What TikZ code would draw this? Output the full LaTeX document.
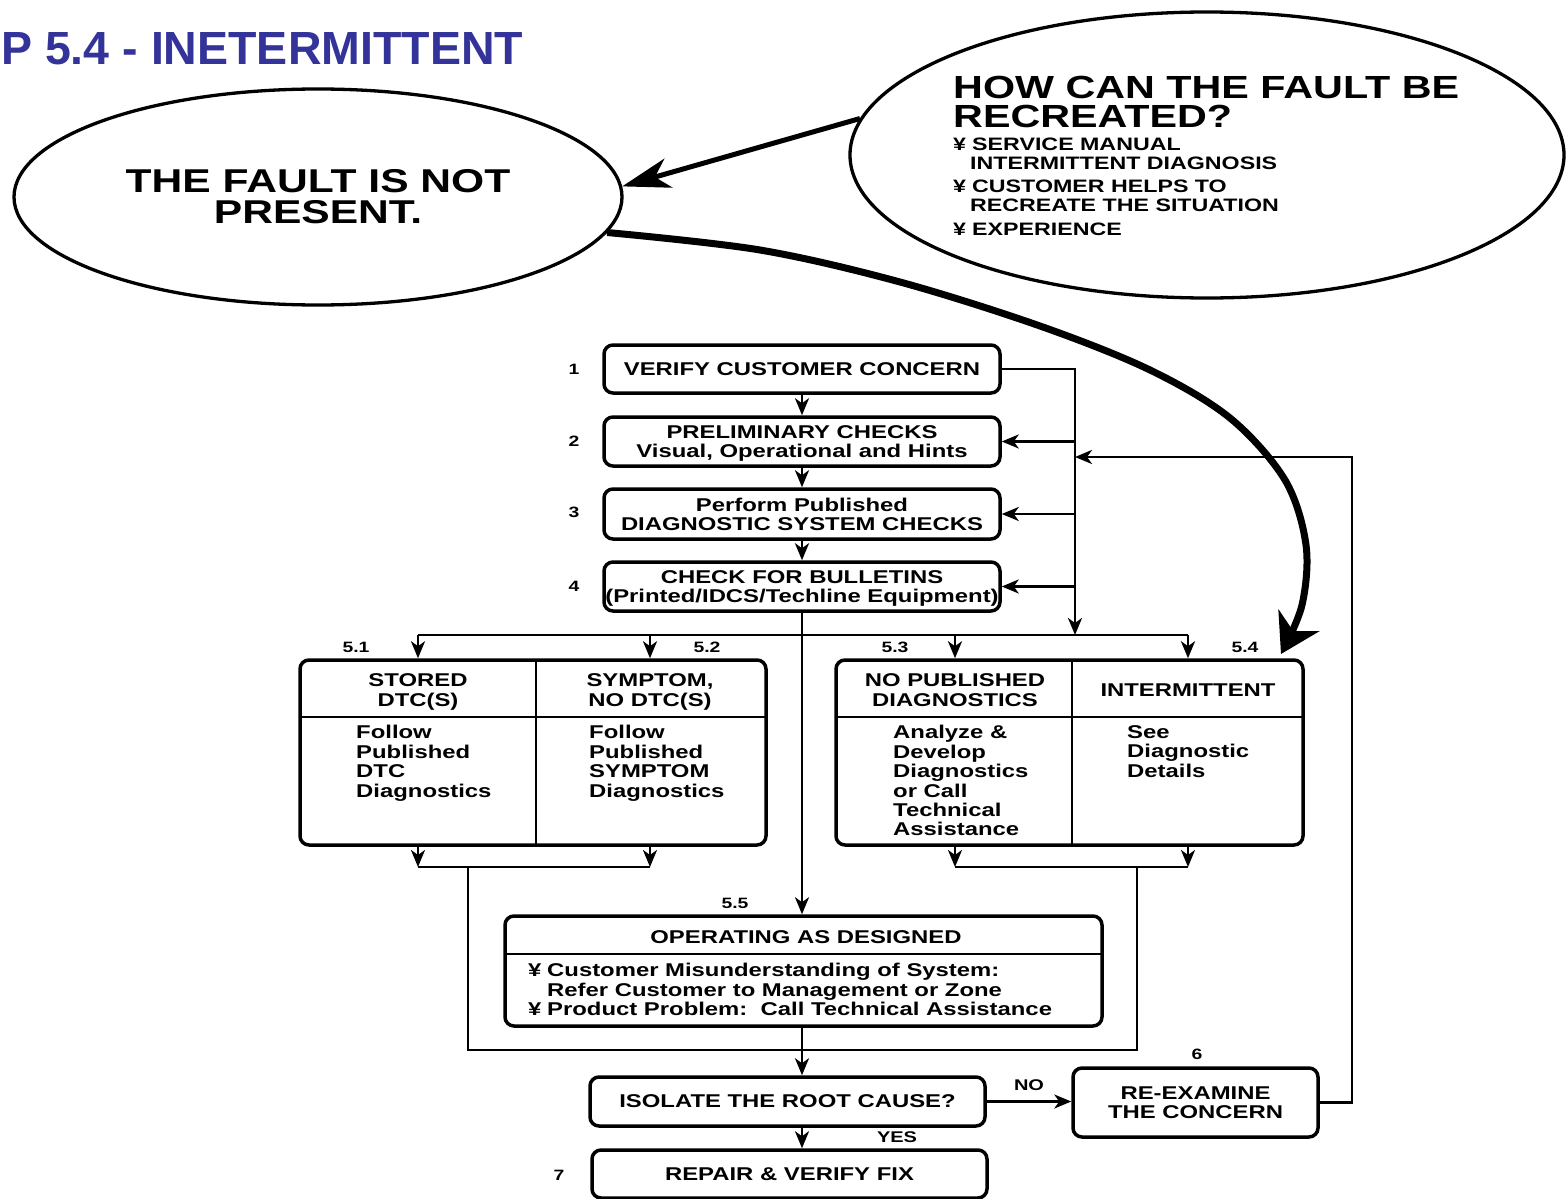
\documentclass[tikz,border=0pt]{standalone}
\usepackage{fontspec}
\setmainfont{Liberation Sans}
\newfontfamily\dfont[FakeStretch=1.29]{Liberation Sans}
\newfontfamily\tfont{Liberation Sans}
\usetikzlibrary{arrows.meta,shapes.geometric}
\definecolor{titleblue}{RGB}{51,51,153}
\newcommand\ftx{\dfont\bfseries\fontsize{18.5}{19.4}\selectfont}
\newcommand\fbig{\dfont\bfseries\fontsize{32}{31}\selectfont}
\newcommand\fbul{\dfont\bfseries\fontsize{18}{19}\selectfont}
\newcommand\flbl{\dfont\bfseries\fontsize{15}{17}\selectfont}
\newcommand\yen{\makebox[19pt][l]{¥}}
\tikzset{
  box/.style={draw, line width=3.5pt, rounded corners=9pt, inner sep=0pt, align=center, font=\ftx, text depth=0pt},
  ell/.style={draw, ellipse, line width=3.3pt, inner sep=0pt},
  conn/.style={line width=2.6pt},
  arr/.style={conn, -{Stealth[length=17pt,width=14pt,inset=5pt]}},
  lbl/.style={inner sep=0pt, font=\flbl},
  txt/.style={inner sep=0pt, align=left, font=\ftx},
  btxt/.style={inner sep=0pt, anchor=base west, font=\fbul},
  hdr/.style={inner sep=0pt, align=center, font=\ftx, text depth=0pt},
  divl/.style={line width=2pt},
}
\begin{document}
\begin{tikzpicture}[x=1pt,y=-1pt]
\useasboundingbox (0,0) rectangle (1567,1199);
\fill[white] (0,0) rectangle (1567,1199);

% title
\node[anchor=base west, inner sep=0pt, text=titleblue, font=\tfont\bfseries\fontsize{46.5}{52}\selectfont] (title) at (1,65) {P 5.4 - INETERMITTENT};

% ellipses
\node[ell, minimum width=608pt, minimum height=216pt, align=center, font=\dfont\bfseries\fontsize{33}{31}\selectfont] (fault) at (318,197) {THE FAULT IS NOT\\PRESENT.};
\node[ell, minimum width=714pt, minimum height=286pt] (q) at (1207,155) {};
\node[btxt, font=\fbig] (qt1) at (953,98.5) {HOW CAN THE FAULT BE};
\node[btxt, font=\fbig] (qt2) at (953,127.5) {RECREATED?};
\node[btxt] (qb1) at (953,150.5) {\yen SERVICE MANUAL};
\node[btxt] (qb2) at (953,169.5) {\hspace*{17pt}INTERMITTENT DIAGNOSIS};
\node[btxt] (qb3) at (953,192.5) {\yen CUSTOMER HELPS TO};
\node[btxt] (qb4) at (953,211.5) {\hspace*{17pt}RECREATE THE SITUATION};
\node[btxt] (qb5) at (953,235.5) {\yen EXPERIENCE};

% main steps
\node[box, minimum width=396pt, minimum height=48pt] (b1) at (802,369) {VERIFY CUSTOMER CONCERN};
\node[box, minimum width=396pt, minimum height=49pt] (b2) at (802,441.5) {PRELIMINARY CHECKS\\Visual, Operational and Hints};
\node[box, minimum width=396pt, minimum height=50pt] (b3) at (802,514) {Perform Published\\DIAGNOSTIC SYSTEM CHECKS};
\node[box, minimum width=396pt, minimum height=49pt] (b4) at (802,586.5) {CHECK FOR BULLETINS\\(Printed/IDCS/Techline Equipment)};
\node[lbl] (n1) at (574,369) {1};
\node[lbl] (n2) at (574,441) {2};
\node[lbl] (n3) at (574,512) {3};
\node[lbl] (n4) at (574,586) {4};

% 5.1 / 5.2
\node[box, minimum width=466pt, minimum height=185pt] (b5a) at (533,752.5) {};
\draw[divl] (536,660) -- (536,845);
\draw[divl] (300,717) -- (766,717);
\node[hdr] (h51) at (418,690) {STORED\\DTC(S)};
\node[hdr] (h52) at (650,690) {SYMPTOM,\\NO DTC(S)};
\node[txt, anchor=north west] (t51) at (356,725.3) {Follow\\Published\\DTC\\Diagnostics};
\node[txt, anchor=north west] (t52) at (589,725.3) {Follow\\Published\\SYMPTOM\\Diagnostics};
\node[lbl] (n51) at (356,647) {5.1};
\node[lbl] (n52) at (707,647) {5.2};

% 5.3 / 5.4
\node[box, minimum width=467pt, minimum height=185pt] (b5b) at (1069.5,752.5) {};
\draw[divl] (1072,660) -- (1072,845);
\draw[divl] (836,717) -- (1303,717);
\node[hdr] (h53) at (955,690) {NO PUBLISHED\\DIAGNOSTICS};
\node[hdr] (h54) at (1188,690) {INTERMITTENT};
\node[txt, anchor=north west] (t53) at (893,725.3) {Analyze \&\\Develop\\Diagnostics\\or Call\\Technical\\Assistance};
\node[txt, anchor=north west] (t54) at (1127,725.3) {See\\Diagnostic\\Details};
\node[lbl] (n53) at (895,647) {5.3};
\node[lbl] (n54) at (1245,647) {5.4};

% 5.5
\node[box, minimum width=597pt, minimum height=110pt] (b55) at (803.5,971) {};
\draw[divl] (505,954) -- (1102,954);
\node[hdr] (h55) at (806,937) {OPERATING AS DESIGNED};
\node[txt, anchor=north west] (t55) at (528,963) {\yen Customer Misunderstanding of System:\\\hspace*{19pt}Refer Customer to Management or Zone\\\yen Product Problem:\ \ Call Technical Assistance};
\node[lbl] (n55) at (735,903) {5.5};

% bottom
\node[box, minimum width=395pt, minimum height=49pt] (iso) at (787.5,1101.5) {ISOLATE THE ROOT CAUSE?};
\node[box, minimum width=245pt, minimum height=69pt] (b6) at (1195.5,1102.5) {RE-EXAMINE\\THE CONCERN};
\node[box, minimum width=395pt, minimum height=48pt] (b7) at (789.5,1174) {REPAIR \& VERIFY FIX};
\node[lbl] (n6) at (1197,1054) {6};
\node[lbl] (n7) at (559,1175) {7};
\node[lbl, font=\dfont\bfseries\fontsize{15.5}{17}\selectfont] (no) at (1029,1085) {NO};
\node[lbl, font=\dfont\bfseries\fontsize{15.5}{17}\selectfont] (yes) at (897,1137) {YES};

% coordinates
\coordinate (bus) at (802,635);
\coordinate (rv) at (1075,635);
\coordinate (lp) at (1352,457);
\coordinate (jl) at (468,867);
\coordinate (jr) at (1137,867);
\coordinate (jb) at (802,1050);
\coordinate (tip54) at (1281,654);

% connectors
\draw[arr] (b1.south) -- (b2.north);
\draw[arr] (b2.south) -- (b3.north);
\draw[arr] (b3.south) -- (b4.north);
\draw[arr] (b4.south) -- (b4.south |- b55.north);
\draw[conn] (h51 |- bus) -- (h54 |- bus);
\draw[arr] (h51 |- bus) -- (h51 |- b5a.north);
\draw[arr] (h52 |- bus) -- (h52 |- b5a.north);
\draw[arr] (h53 |- bus) -- (h53 |- b5b.north);
\draw[arr] (h54 |- bus) -- (h54 |- b5b.north);
\draw[arr] (b1.east) -| (rv);
\draw[arr] (b2.east -| rv) -- (b2.east);
\draw[arr] (b3.east -| rv) -- (b3.east);
\draw[arr] (b4.east -| rv) -- (b4.east);
\draw[arr] (b6.east) -| (lp) -- (lp -| rv);

\draw[arr] (h51 |- b5a.south) -- (h51 |- jl);
\draw[arr] (h52 |- b5a.south) -- (h52 |- jl);
\draw[conn] (h51 |- jl) -- (h52 |- jl);
\draw[arr] (h53 |- b5b.south) -- (h53 |- jr);
\draw[arr] (h54 |- b5b.south) -- (h54 |- jr);
\draw[conn] (h53 |- jr) -- (h54 |- jr);
\draw[conn] (jl) -- (jl |- jb) -- (jr |- jb) -- (jr);

\draw[arr] (b4.south |- b55.south) -- (b4.south |- iso.north);
\draw[arr] (b4.south |- iso.south) -- (b4.south |- b7.north);
\draw[arr] (iso.east) -- (iso.east -| b6.west);

% big arrows
\draw[line width=5pt, -{Stealth[length=48pt,width=30pt,inset=14pt]}] (q.174) -- (fault.2);
\draw[line width=7pt, -{Stealth[length=38pt,width=46pt,inset=12pt]}]
  plot[smooth, tension=0.55] coordinates {(fault.-7) (760,250) (900,282) (1040,326) (1150,370) (1230,418) (1285,480) (1306,545) (1302,605) (tip54)};
\end{tikzpicture}
\end{document}
